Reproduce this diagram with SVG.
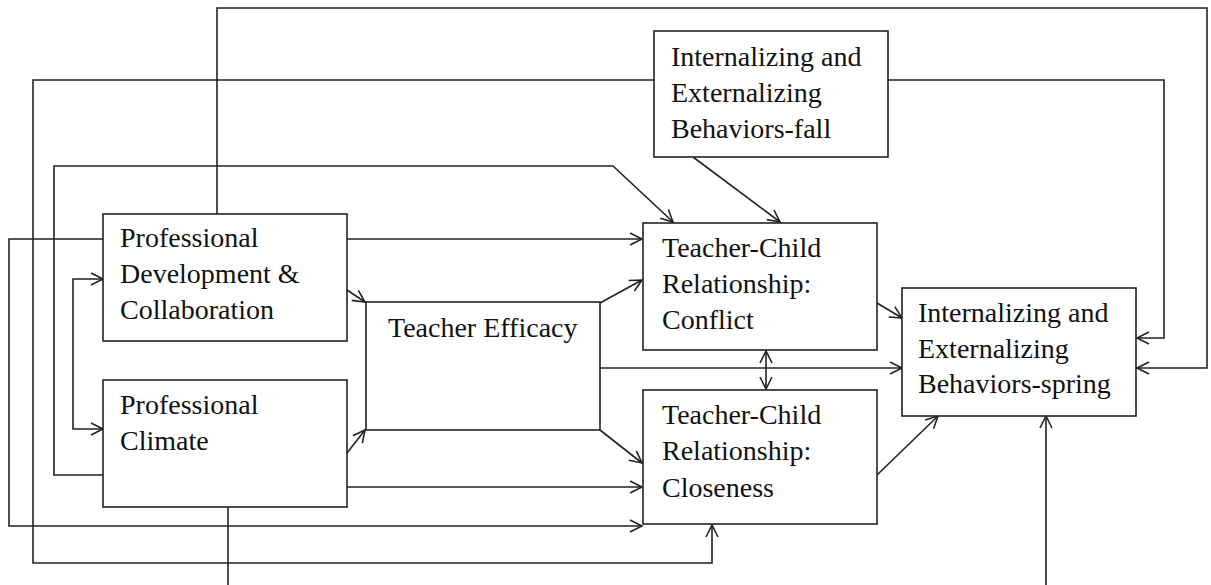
<svg xmlns="http://www.w3.org/2000/svg" width="1211" height="585" viewBox="0 0 1211 585">
<style>
.box{fill:#fff;stroke:#222;stroke-width:1.6}
.c{fill:none;stroke:#222;stroke-width:1.6}
.t{font-family:"Liberation Serif","Times New Roman",serif;font-size:28px;fill:#111}
</style>
<defs>
<marker id="ah" markerUnits="userSpaceOnUse" markerWidth="16" markerHeight="16" refX="13" refY="7" orient="auto-start-reverse">
<path d="M1,1 L13,7 L1,13" fill="none" stroke="#222" stroke-width="1.6"/>
</marker>
</defs>
<rect width="1211" height="585" fill="#fff"/>
<g id="connectors">
<path class="c" d="M217,214 V8 H1207 V368 H1137" marker-end="url(#ah)"/>
<path class="c" d="M654,80 H33 V563 H712 V525" marker-end="url(#ah)"/>
<path class="c" d="M888,80 H1164 V338 H1137" marker-end="url(#ah)"/>
<path class="c" d="M103,475 H54 V166 H613 L673,222" marker-end="url(#ah)"/>
<path class="c" d="M103,239 H9 V526 H642" marker-end="url(#ah)"/>
<path class="c" d="M347,239 H642" marker-end="url(#ah)"/>
<path class="c" d="M103,279 H73 V429 H103" marker-start="url(#ah)" marker-end="url(#ah)"/>
<path class="c" d="M347,290 L365,302" marker-end="url(#ah)"/>
<path class="c" d="M347,453 L365,430" marker-end="url(#ah)"/>
<path class="c" d="M347,487 H642" marker-end="url(#ah)"/>
<path class="c" d="M600,303 L642,280" marker-end="url(#ah)"/>
<path class="c" d="M600,430 L642,463" marker-end="url(#ah)"/>
<path class="c" d="M600,368 H902" marker-end="url(#ah)"/>
<path class="c" d="M766,351 V389" marker-start="url(#ah)" marker-end="url(#ah)"/>
<path class="c" d="M877,303 L902,318" marker-end="url(#ah)"/>
<path class="c" d="M877,475 L938,416" marker-end="url(#ah)"/>
<path class="c" d="M228,507 V600 H1046 V416" marker-end="url(#ah)"/>
<path class="c" d="M693,157 L780,222" marker-end="url(#ah)"/>
</g>
<g id="fall">
<rect class="box" x="654" y="31" width="234" height="126"/>
<text class="t" x="671" y="66">Internalizing and</text>
<text class="t" x="671" y="102">Externalizing</text>
<text class="t" x="671" y="138">Behaviors-fall</text>
</g>
<g id="pd">
<rect class="box" x="103" y="214" width="244" height="127"/>
<text class="t" x="120" y="247">Professional</text>
<text class="t" x="120" y="283">Development &amp;</text>
<text class="t" x="120" y="319">Collaboration</text>
</g>
<g id="climate">
<rect class="box" x="103" y="380" width="244" height="127"/>
<text class="t" x="120" y="414">Professional</text>
<text class="t" x="120" y="450">Climate</text>
</g>
<g id="efficacy">
<rect class="box" x="366" y="302" width="234" height="128"/>
<text class="t" x="388" y="337">Teacher Efficacy</text>
</g>
<g id="conflict">
<rect class="box" x="643" y="223" width="234" height="127"/>
<text class="t" x="662" y="257">Teacher-Child</text>
<text class="t" x="662" y="293">Relationship:</text>
<text class="t" x="662" y="329">Conflict</text>
</g>
<g id="closeness">
<rect class="box" x="643" y="390" width="234" height="134"/>
<text class="t" x="662" y="424">Teacher-Child</text>
<text class="t" x="662" y="460">Relationship:</text>
<text class="t" x="662" y="497">Closeness</text>
</g>
<g id="spring">
<rect class="box" x="902" y="288" width="234" height="128"/>
<text class="t" x="918" y="322">Internalizing and</text>
<text class="t" x="918" y="358">Externalizing</text>
<text class="t" x="918" y="393">Behaviors-spring</text>
</g>
</svg>
